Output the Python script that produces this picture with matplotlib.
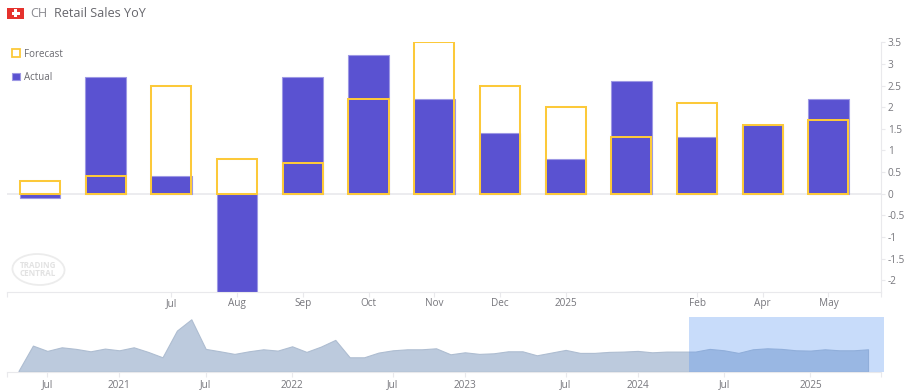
#!/usr/bin/env python3
import matplotlib
matplotlib.use("Agg")
import matplotlib.pyplot as plt
from matplotlib.patches import Ellipse, Rectangle

W, H = 914, 392

# main chart
ACTUAL = [-0.1, 2.7, 0.4, -2.3, 2.7, 3.2, 2.2, 1.4, 0.8, 2.6, 1.3, 1.6, 2.2]
FORECAST = [0.3, 0.4, 2.5, 0.8, 0.7, 2.2, 3.5, 2.5, 2.0, 1.3, 2.1, 1.6, 1.7]
X_TICKS = [2, 3, 4, 5, 6, 7, 8, 10, 11, 12]
X_LABELS = ["Jul", "Aug", "Sep", "Oct", "Nov", "Dec", "2025", "Feb", "Apr", "May"]
Y_TICKS = [-2, -1.5, -1, -0.5, 0, 0.5, 1, 1.5, 2, 2.5, 3, 3.5]
Y_LABELS = ["-2", "-1.5", "-1", "-0.5", "0", "0.5", "1", "1.5", "2", "2.5", "3", "3.5"]

# navigator strip, values read as height above its baseline
NAV = [0.7, 26, 20.7, 24.3, 22.7, 20.3, 23, 21.3, 24.3, 19.7, 14.3, 41, 52.3,
       22.7, 20.3, 17.7, 20.3, 22.3, 21, 25.3, 19.7, 25, 31.7, 14.3, 14.3, 19,
       21.3, 22.3, 22.3, 23.3, 17.3, 19.3, 17.7, 18.3, 20.3, 20.3, 16.3, 19,
       21.7, 18.7, 18.7, 19.7, 20, 20.7, 19.3, 20, 20, 20, 22.7, 21.3, 18.7,
       22.3, 23.3, 22.7, 21.3, 21, 22.3, 21.3, 21.3, 22.3]
NAV_TICKS = [2, 7, 13, 19, 26, 31, 38, 43, 49, 55]
NAV_LABELS = ["Jul", "2021", "Jul", "2022", "Jul", "2023", "Jul", "2024", "Jul", "2025"]
NAV_WINDOW = (46.56, 60.08)

GRID = "#e9e9ec"
TEXT = "#77777d"
FONT = "Open Sans"


def px_axes(fig, left, top, right, bottom):
    return fig.add_axes([left / W, 1 - bottom / H, (right - left) / W, (bottom - top) / H])


def plot_main(fig):
    ax = px_axes(fig, 7, 42.3, 881, 291.5)
    xs = list(range(len(ACTUAL)))
    ax.bar(xs, ACTUAL, width=0.62, color="#5a52d1", edgecolor="#9d98e4", linewidth=0.8, zorder=2)
    ax.bar(xs, FORECAST, width=0.61, facecolor="none", edgecolor="#fcc93a", linewidth=1.45, zorder=3)
    ax.axhline(0, color=GRID, linewidth=1.2, zorder=1)
    ax.set_xlim(-0.502, 12.8)
    ax.set_ylim(-2.26, 3.5)

    ax.set_xticks([-0.502] + X_TICKS + [12.8])
    ax.set_xticklabels([""] + X_LABELS + [""], family=FONT, fontsize=7.2, color=TEXT)
    ax.yaxis.tick_right()
    ax.set_yticks(Y_TICKS)
    ax.set_yticklabels(Y_LABELS, family=FONT, fontsize=7.2, color=TEXT)
    ax.tick_params(axis="x", length=3.5, width=0.8, color=GRID, pad=1.5)
    ax.tick_params(axis="y", length=3, width=0.8, color=GRID, pad=2)
    ax.spines[["top", "left"]].set_visible(False)
    ax.spines[["bottom", "right"]].set_color(GRID)
    ax.patch.set_alpha(0)

    handles = [Rectangle((0, 0), 1, 1, facecolor="white", edgecolor="#fcc93a", linewidth=1.3),
               Rectangle((0, 0), 1, 1, facecolor="#5a52d1", edgecolor="#9d98e4", linewidth=0.8)]
    leg = ax.legend(handles, ["Forecast", "Actual"], loc="upper left",
                    bbox_to_anchor=(4.5 / 874, 0.975), frameon=False, handlelength=0.85,
                    handleheight=0.85, handletextpad=0.45, labelspacing=1.28,
                    borderpad=0, borderaxespad=0,
                    prop={"family": FONT, "size": 7.0})
    for t in leg.get_texts():
        t.set_color("#6a6a70")


def plot_nav(fig):
    ax = px_axes(fig, 7, 317, 881, 371.6)
    xs = list(range(len(NAV)))
    ax.fill_between(xs, NAV, 0, facecolor="#bccadd", edgecolor="#aebdd1", linewidth=0.8, zorder=2)
    ax.axvspan(NAV_WINDOW[0], NAV_WINDOW[1], color="#4b8df1", alpha=0.3, linewidth=0,
               clip_on=False, zorder=3)
    ax.set_xlim(-0.8, 59.9)
    ax.set_ylim(0, 54.6)
    ax.set_yticks([])
    ax.set_xticks([-0.8] + NAV_TICKS + [59.9])
    ax.set_xticklabels([""] + NAV_LABELS + [""], family=FONT, fontsize=7.2, color=TEXT)
    ax.tick_params(axis="x", length=3.5, width=0.8, color=GRID, pad=2.2)
    ax.spines[["top", "left", "right"]].set_visible(False)
    ax.spines["bottom"].set_color(GRID)
    ax.patch.set_alpha(0)


def plot_header(fig):
    # flag
    fig.add_artist(Rectangle((7.5 / W, 1 - 19 / H), 16 / W, 11 / H, transform=fig.transFigure,
                             facecolor="#e5322d", edgecolor="none"))
    fig.add_artist(Rectangle((11.5 / W, 1 - 14.8 / H), 8 / W, 2.8 / H, transform=fig.transFigure,
                             facecolor="white", edgecolor="none"))
    fig.add_artist(Rectangle((14.1 / W, 1 - 17.4 / H), 2.8 / W, 8 / H, transform=fig.transFigure,
                             facecolor="white", edgecolor="none"))
    fig.text(30.5 / W, 1 - 13.5 / H, "CH", family=FONT, fontsize=9.1, color="#8a8a90", va="center")
    fig.text(54.5 / W, 1 - 13.5 / H, "Retail Sales YoY", family=FONT, fontsize=9.1,
             color="#66666c", va="center")

    # watermark
    fig.add_artist(Ellipse((38.5 / W, 1 - 269.5 / H), 52 / W, 31 / H, angle=4,
                           transform=fig.transFigure, facecolor="none",
                           edgecolor="#ececec", linewidth=1.3))
    fig.text(38 / W, 1 - 269.5 / H, "TRADING\nCENTRAL", family=FONT, fontsize=5.8,
             fontweight="bold", color="#e2e2e2", ha="center", va="center", linespacing=0.95)


def main():
    fig = plt.figure(figsize=(W / 100, H / 100), dpi=100, facecolor="white")
    plot_main(fig)
    plot_nav(fig)
    plot_header(fig)
    fig.savefig("out.png", dpi=100)
    plt.close(fig)


if __name__ == "__main__":
    main()
